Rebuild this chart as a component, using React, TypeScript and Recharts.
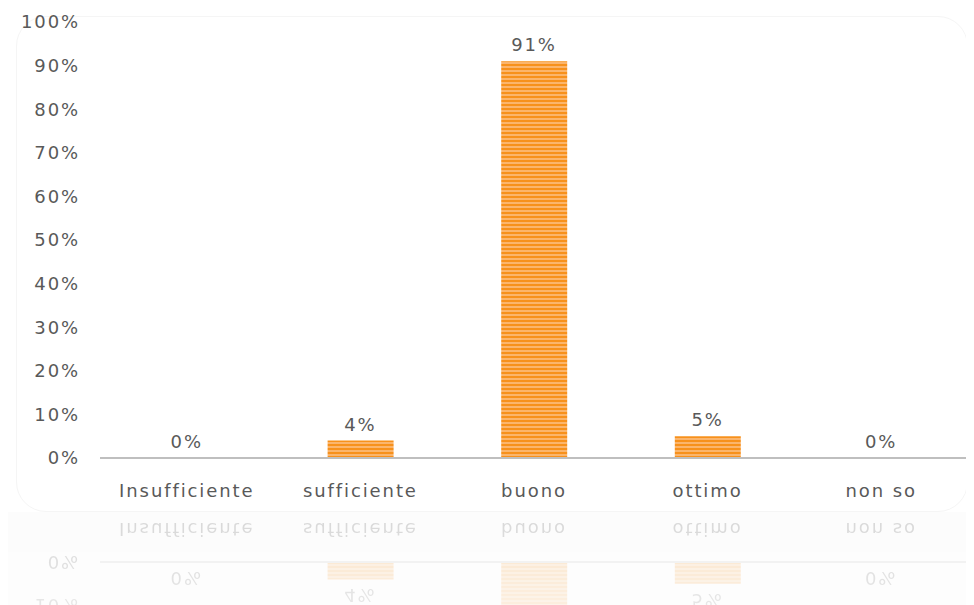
import React from 'react';
import { ComposedChart, Bar, Line, XAxis, YAxis, LabelList } from 'recharts';

const categories = ['Insufficiente', 'sufficiente', 'buono', 'ottimo', 'non so'];
const values = [0, 4, 91, 5, 0];
const yTicks = [0, 10, 20, 30, 40, 50, 60, 70, 80, 90, 100];

const data = categories.map((name, i) => ({ name, value: values[i] }));

const textColor = '#595959';
const font = '"DejaVu Sans", Verdana, sans-serif';
const textStyle = { fill: textColor, fontSize: 18, fontFamily: font, letterSpacing: 1.9 };

function Chart({ id }: { id: string }) {
  return (
    <ComposedChart
      width={966}
      height={500}
      data={data}
      margin={{ top: 14, right: 6, bottom: 0, left: 0 }}
      barCategoryGap={0}
    >
      <defs>
        <pattern id={id} width="8" height="4" patternUnits="userSpaceOnUse">
          <rect width="8" height="4" fill="#FBB56C" />
          <rect width="8" height="2" fill="#F7911C" />
        </pattern>
      </defs>
      <XAxis
        dataKey="name"
        axisLine={{ stroke: '#BFBFBF', strokeWidth: 2 }}
        tickLine={false}
        tickMargin={20}
        height={50}
        tick={textStyle}
        interval={0}
      />
      <YAxis
        domain={[0, 100]}
        ticks={yTicks}
        axisLine={false}
        tickLine={false}
        tickMargin={14}
        width={92}
        tickFormatter={(v: number) => `${v}%`}
        tick={textStyle}
      />
      <Bar dataKey="value" fill={`url(#${id})`} barSize={66} isAnimationActive={false} />
      <Line dataKey="value" stroke="none" dot={false} activeDot={false} isAnimationActive={false}>
        <LabelList
          dataKey="value"
          position="top"
          offset={10}
          formatter={(v: number) => `${v}%`}
          style={textStyle}
        />
      </Line>
    </ComposedChart>
  );
}

export default function App() {
  return (
    <div style={{ width: 966, position: 'relative', background: '#fff' }}>
      <div
        style={{
          position: 'absolute',
          left: 8,
          top: 8,
          width: 950,
          height: 494,
          borderRadius: 30,
          border: '1px solid #f5f5f5',
          pointerEvents: 'none',
        }}
      />
      <Chart id="stripes-main" />
      <div
        style={{
          height: 95,
          overflow: 'hidden',
          marginTop: 4,
          background: '#fcfcfc',
          WebkitMaskImage: 'linear-gradient(to bottom, rgba(0,0,0,1), rgba(0,0,0,0.6))',
          maskImage: 'linear-gradient(to bottom, rgba(0,0,0,1), rgba(0,0,0,0.6))',
        }}
      >
        <div style={{ transform: 'scaleY(-1)', transformOrigin: 'top', marginTop: 500, opacity: 0.22 }}>
          <Chart id="stripes-reflect" />
        </div>
      </div>
    </div>
  );
}
